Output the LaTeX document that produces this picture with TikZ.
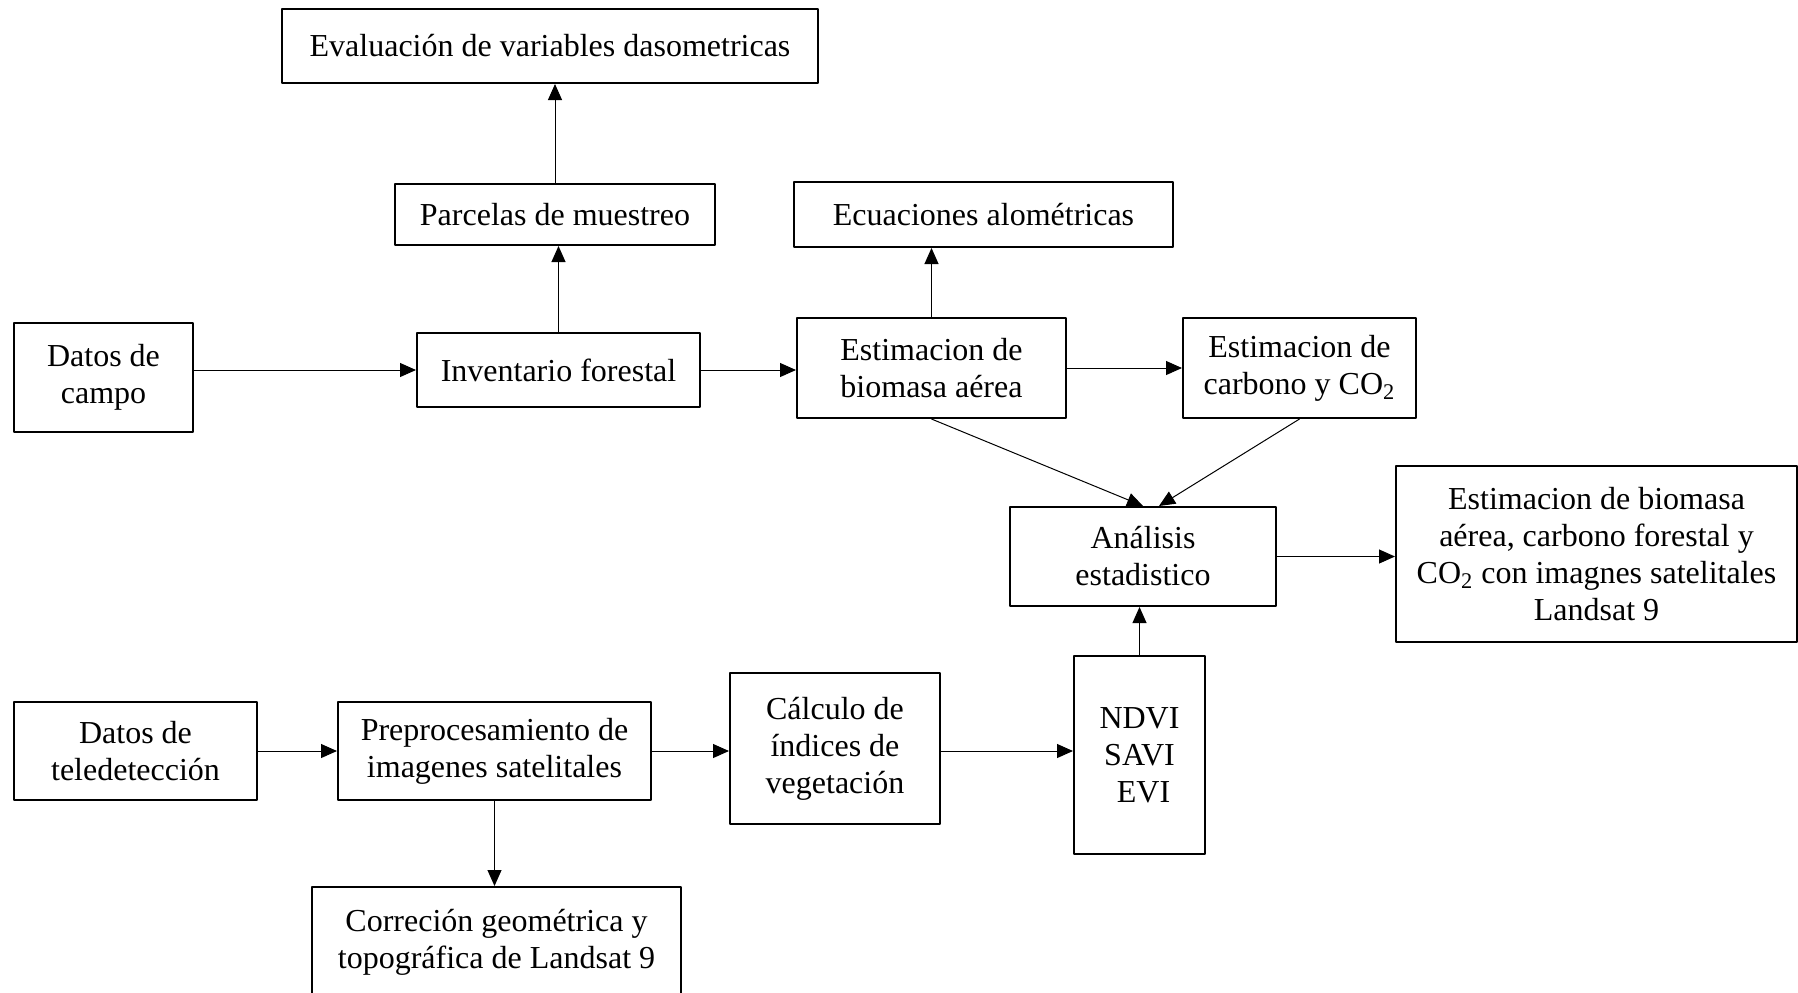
\documentclass[tikz,border=0pt]{standalone}
\usepackage{fontspec}
\setmainfont{Liberation Serif}
\usetikzlibrary{arrows.meta}

\begin{document}
\begin{tikzpicture}[x=0.5pt,y=-0.5pt,line join=round,
		caja/.style={draw,line width=1pt,align=center,inner sep=0pt,font=\fontsize{16}{18.5}\selectfont},
		flecha/.style={line width=0.5pt,-{Triangle[length=8pt,width=7pt]}}]
		\useasboundingbox (0,0) rectangle (1798,992);
		% parte de campo
		\node[caja,minimum width=268pt,minimum height=37pt] (eval) at (550,46) {Evaluación de variables dasometricas};
		\node[caja,minimum width=160pt,minimum height=30.5pt] (parcelas) at (555,214.5) {Parcelas de muestreo};
		\node[caja,minimum width=189.5pt,minimum height=32.5pt] (ecuaciones) at (983.5,214.5) {Ecuaciones alométricas};
		\node[caja,minimum width=89.5pt,minimum height=54.5pt] (campo) at (103.5,377.5) {Datos de\\campo};
		\node[caja,minimum width=141.5pt,minimum height=37pt] (inventario) at (558.5,370) {Inventario forestal};
		\node[caja,minimum width=134.5pt,minimum height=50pt] (biomasa) at (931.5,368) {Estimacion de\\biomasa aérea};
		\node[caja,minimum width=116.5pt,minimum height=50pt] (carbono) at (1299.5,368) {Estimacion de\\carbono y CO\textsubscript{2}};
		\node[caja,minimum width=133pt,minimum height=49.5pt] (analisis) at (1143,556.5) {Análisis\\estadistico};
		\node[caja,minimum width=200.5pt,minimum height=88pt] (final) at (1596.5,554) {Estimacion de biomasa\\aérea, carbono forestal y\\CO\textsubscript{2} con imagnes satelitales\\Landsat 9};
		% parte de teledeteccion
		\node[caja,minimum width=121.5pt,minimum height=49pt] (tele) at (135.5,751) {Datos de\\teledetección};
		\node[caja,minimum width=156.5pt,minimum height=49pt] (preproc) at (494.5,751) {Preprocesamiento de\\imagenes satelitales};
		\node[caja,minimum width=105pt,minimum height=75.5pt] (calculo) at (835,748.5) {Cálculo de\\índices de\\vegetación};
		\node[caja,minimum width=65.5pt,minimum height=99pt] (ndvi) at (1139.5,755) {NDVI\\SAVI\\\hspace*{4pt}EVI};
		\node[caja,minimum width=184.5pt,minimum height=55.5pt] (correcion) at (496.5,942.5) {Correción geométrica y\\topográfica de Landsat 9};
		% flechas
		\draw[flecha] (campo.east |- inventario.west) -- (inventario.west);
		\draw[flecha] (inventario.north) -- (inventario.north |- parcelas.south);
		\draw[flecha] (parcelas.north) -- (parcelas.north |- eval.south);
		\draw[flecha] (inventario.east) -- (inventario.east -| biomasa.west);
		\draw[flecha] (biomasa.north) -- (biomasa.north |- ecuaciones.south);
		\draw[flecha] (biomasa.east) -- (carbono.west);
		\draw[flecha] (biomasa.south) -- (analisis.north);
		\draw[flecha] (carbono.south) -- ([xshift=8pt]analisis.north);
		\draw[flecha] (analisis.east) -- (analisis.east -| final.west);
		\draw[flecha] (tele.east) -- (preproc.west);
		\draw[flecha] (preproc.east) -- (preproc.east -| calculo.west);
		\draw[flecha] (calculo.east |- preproc.east) -- (preproc.east -| ndvi.west);
		\draw[flecha] (preproc.south) -- (preproc.south |- correcion.north);
		\draw[flecha] (ndvi.north) -- (ndvi.north |- analisis.south);
\end{tikzpicture}
\end{document}
